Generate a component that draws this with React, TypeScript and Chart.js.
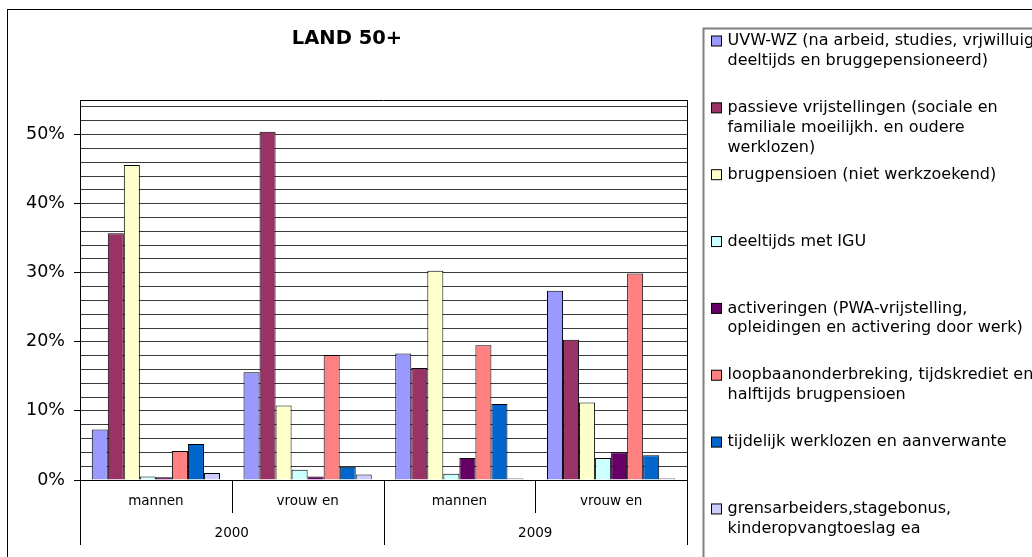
import React, { useEffect, useRef } from 'react';
import { Chart, registerables } from 'chart.js';

Chart.register(...registerables);

// ---- data ----
const chartTitle = 'LAND 50+';
const categories = ['mannen', 'vrouw en', 'mannen', 'vrouw en'];
const years = ['2000', '2009'];

const uvwWz = [7.3, 15.6, 18.3, 27.4];
const passieveVrijstellingen = [35.7, 50.4, 16.2, 20.3];
const brugpensioen = [45.6, 10.8, 30.3, 11.2];
const deeltijdsMetIgu = [0.5, 1.5, 0.9, 3.2];
const activeringen = [0.4, 0.5, 3.2, 4.0];
const loopbaanonderbreking = [4.2, 18.1, 19.5, 29.9];
const tijdelijkWerklozen = [5.2, 1.9, 11.0, 3.6];
const grensarbeiders = [1.0, 0.8, 0.2, 0.2];

const seriesValues = [
  uvwWz,
  passieveVrijstellingen,
  brugpensioen,
  deeltijdsMetIgu,
  activeringen,
  loopbaanonderbreking,
  tijdelijkWerklozen,
  grensarbeiders,
];

const seriesLabels = [
  ['UVW-WZ (na arbeid, studies, vrjwilluig', 'deeltijds en bruggepensioneerd)'],
  ['passieve vrijstellingen (sociale en', 'familiale moeilijkh. en oudere', 'werklozen)'],
  ['brugpensioen (niet werkzoekend)'],
  ['deeltijds met IGU'],
  ['activeringen (PWA-vrijstelling,', 'opleidingen en activering door werk)'],
  ['loopbaanonderbreking, tijdskrediet en', 'halftijds brugpensioen'],
  ['tijdelijk werklozen en aanverwante'],
  ['grensarbeiders,stagebonus,', 'kinderopvangtoeslag ea'],
];

const seriesColors = ['#9999FF', '#993366', '#FFFFCC', '#CCFFFF', '#660066', '#FF8080', '#0066CC', '#CCCCFF'];

const yGridValues = [0, 2, 4, 6, 8, 10, 12, 14, 16, 18, 20, 22, 24, 26, 28, 30, 32, 34, 36, 38, 40, 42, 44, 46, 48, 50, 52, 54];
const yLabelStep = 10;
const yMax = 55;

const FONT = '"DejaVu Sans", sans-serif';

const decorPlugin = {
  id: 'decor',
  beforeDraw(chart: any) {
    const ctx = chart.ctx;
    const { width, height } = chart;
    ctx.save();
    ctx.fillStyle = '#fff';
    ctx.fillRect(0, 0, width, height);
    ctx.strokeStyle = '#000';
    ctx.lineWidth = 1;
    ctx.strokeRect(0.5, 0.5, width + 20, height + 20);
    ctx.restore();
  },
  afterDraw(chart: any) {
    const ctx = chart.ctx;
    const area = chart.chartArea;
    const xs = chart.scales.x;
    ctx.save();
    // plot frame top & right
    ctx.strokeStyle = '#000';
    ctx.lineWidth = 1;
    ctx.beginPath();
    ctx.moveTo(area.left, Math.round(area.top) + 0.5);
    ctx.lineTo(area.right, Math.round(area.top) + 0.5);
    ctx.moveTo(Math.round(area.right) + 0.5, area.top);
    ctx.lineTo(Math.round(area.right) + 0.5, area.bottom);
    ctx.stroke();

    // category separators
    const step = xs.getPixelForValue(1) - xs.getPixelForValue(0);
    const shortEnd = area.bottom + 33;
    const longEnd = area.bottom + 65;
    ctx.beginPath();
    for (let i = 0; i <= categories.length; i++) {
      const x = Math.round(xs.getPixelForValue(0) - step / 2 + i * step) + 0.5;
      ctx.moveTo(x, area.bottom);
      ctx.lineTo(x, i % 2 === 0 ? longEnd : shortEnd);
    }
    ctx.stroke();

    // category labels
    ctx.fillStyle = '#000';
    ctx.font = `13.5px ${FONT}`;
    ctx.textAlign = 'center';
    ctx.textBaseline = 'middle';
    categories.forEach((c, i) => {
      ctx.fillText(c, xs.getPixelForValue(i), area.bottom + 21);
    });
    years.forEach((y, j) => {
      const cx = (xs.getPixelForValue(2 * j) + xs.getPixelForValue(2 * j + 1)) / 2;
      ctx.fillText(y, cx, area.bottom + 53);
    });

    // legend
    const lx = 696.5;
    const ly = 19.5;
    ctx.strokeStyle = '#808080';
    ctx.lineWidth = 2;
    ctx.strokeRect(lx, ly, 500, 700);
    ctx.font = `16px ${FONT}`;
    ctx.textAlign = 'left';
    const pitch = 66.85;
    const lineH = 19.8;
    chart.data.datasets.forEach((ds: any, i: number) => {
      const y0 = 32 + i * pitch;
      ctx.fillStyle = ds.backgroundColor;
      ctx.fillRect(704.5, y0 - 5, 10, 10);
      ctx.strokeStyle = '#000';
      ctx.lineWidth = 1;
      ctx.strokeRect(704.5, y0 - 5, 10, 10);
      ctx.fillStyle = '#000';
      (ds.labelLines as string[]).forEach((line, k) => {
        ctx.fillText(line, 720.5, y0 + k * lineH);
      });
    });
    ctx.restore();
  },
};

export default function App() {
  const ref = useRef<HTMLCanvasElement>(null);

  useEffect(() => {
    if (!ref.current) return;
    const chart = new Chart(ref.current, {
      type: 'bar',
      data: {
        labels: categories,
        datasets: seriesValues.map((vals, i) => ({
          label: seriesLabels[i].join(' '),
          labelLines: seriesLabels[i],
          data: vals,
          backgroundColor: seriesColors[i],
          borderColor: '#000',
          borderWidth: 1,
          categoryPercentage: 0.845,
          barPercentage: 1.0,
        })) as any,
      },
      options: {
        responsive: false,
        animation: false,
        maintainAspectRatio: false,
        layout: { padding: { left: 0, right: 360, top: 0, bottom: 0 } },
        plugins: {
          legend: { display: false },
          tooltip: { enabled: false },
          title: {
            display: true,
            text: chartTitle,
            color: '#000',
            font: { family: FONT, size: 19.5, weight: 'bold', lineHeight: 1.2 },
            padding: { top: 18, bottom: 49.6 },
          },
        },
        scales: {
          x: {
            grid: { display: false },
            ticks: { display: false },
            border: { display: true, color: '#000', width: 1 },
            afterFit: (s: any) => {
              s.height = 89;
            },
          },
          y: {
            min: 0,
            max: yMax,
            afterBuildTicks: (s: any) => {
              s.ticks = yGridValues.map((v) => ({ value: v }));
            },
            ticks: {
              color: '#000',
              autoSkip: false,
              font: { family: FONT, size: 17.5 },
              padding: 9,
              callback: (v: any) => (Number(v) % yLabelStep === 0 ? `${v}%` : ''),
            },
            grid: {
              color: '#3a3a3a',
              lineWidth: 1,
              tickLength: 6,
              tickColor: (c: any) => (c.tick && c.tick.value % yLabelStep === 0 ? '#000' : 'rgba(0,0,0,0)'),
            },
            border: { display: true, color: '#000', width: 1 },
            afterFit: (s: any) => {
              s.width = 73;
            },
          },
        },
      } as any,
      plugins: [decorPlugin],
    });
    return () => chart.destroy();
  }, []);

  return (
    <div style={{ position: 'fixed', left: 0, top: 0, width: 1032, height: 557, overflow: 'hidden', background: '#fff' }}>
      <canvas ref={ref} width={1040} height={560} style={{ position: 'absolute', left: 7, top: 9, width: 1040, height: 560 }} />
    </div>
  );
}
